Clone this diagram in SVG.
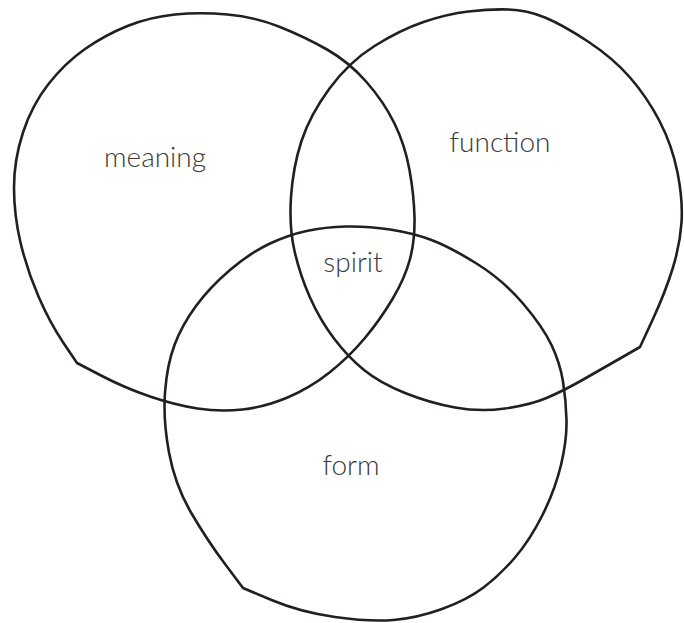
<svg xmlns="http://www.w3.org/2000/svg" width="684" height="623" viewBox="0 0 684 623">
<style>
.c{fill:none;stroke:#231f20;stroke-width:2.6;stroke-linejoin:round}
.t{font-family:Lato,"Open Sans","Liberation Sans",sans-serif;font-weight:300;font-size:28px;fill:#3a3a3a;text-anchor:middle}
</style>
<rect width="684" height="623" fill="#fff"/>
<g id="meaning">
<path class="c" d="M175,14.5 Q200,12 227.5,14.5 Q255,17 280,27 Q305,37 327,49.5 Q349,62 366.5,82 Q384,102 394.5,123.5 Q405,145 409.5,170 Q414,195 414.5,217.5 Q415,240 410,259 Q405,278 392.5,299 Q380,320 364.5,338.5 Q349,357 329.5,372.5 Q310,388 287.5,397.5 Q265,407 242.5,409.5 Q220,412 197.5,408.5 Q175,405 150,396.5 Q125,388 101,375.5 L77,363 L63.5,343 Q50,323 38.5,296.5 Q27,270 20.5,242.5 Q14,215 14,187.5 Q14,160 23,132.5 Q32,105 48.5,84 Q65,63 85,49 Q105,35 127.5,26 Q150,17 175,14.5 Z"/>
<text class="t" x="155" y="167">meaning</text>
</g>
<g id="function">
<path class="c" d="M468.5,11.5 Q490,9 508.5,9.5 Q527,10 545,17.5 Q563,25 588,41.5 Q613,58 630,77.5 Q647,97 659.5,121 Q672,145 677.5,172.5 Q683,200 681.5,222.5 Q680,245 672.5,269 Q665,293 652.5,320 L640,347 L620,358.5 Q600,370 581.5,380.5 Q563,391 546.5,398 Q530,405 505,408.5 Q480,412 455,407.5 Q430,403 405,393 Q380,383 364,370 Q348,357 334,338.5 Q320,320 310,297.5 Q300,275 294.5,251 Q289,227 291,197 Q293,167 301.5,141 Q310,115 329.5,88.5 Q349,62 374.5,46 Q400,30 423.5,22 Q447,14 468.5,11.5 Z"/>
<text class="t" x="500" y="152">function</text>
</g>
<g id="form">
<path class="c" d="M346,226.5 Q367,226 390,229.5 Q413,233 431.5,240 Q450,247 476.5,263.5 Q503,280 523,303.5 Q543,327 551.5,345 Q560,363 563,381.5 Q566,400 566.5,420 Q567,440 561,465 Q555,490 542.5,515 Q530,540 515,557.5 Q500,575 483.5,587.5 Q467,600 442,609 Q417,618 393.5,620 Q370,622 335,617 Q300,612 271.5,600 L243,588 L225,564 Q207,540 191,512.5 Q175,485 169,452.5 Q163,420 165,392.5 Q167,365 174.5,345 Q182,325 196,306 Q210,287 230,270 Q250,253 269,244 Q288,235 306.5,231 Q325,227 346,226.5 Z"/>
<text class="t" x="351" y="475">form</text>
</g>
<g id="spirit">
<text class="t" x="353" y="272">spirit</text>
</g>
<g id="connectors"/>
</svg>
